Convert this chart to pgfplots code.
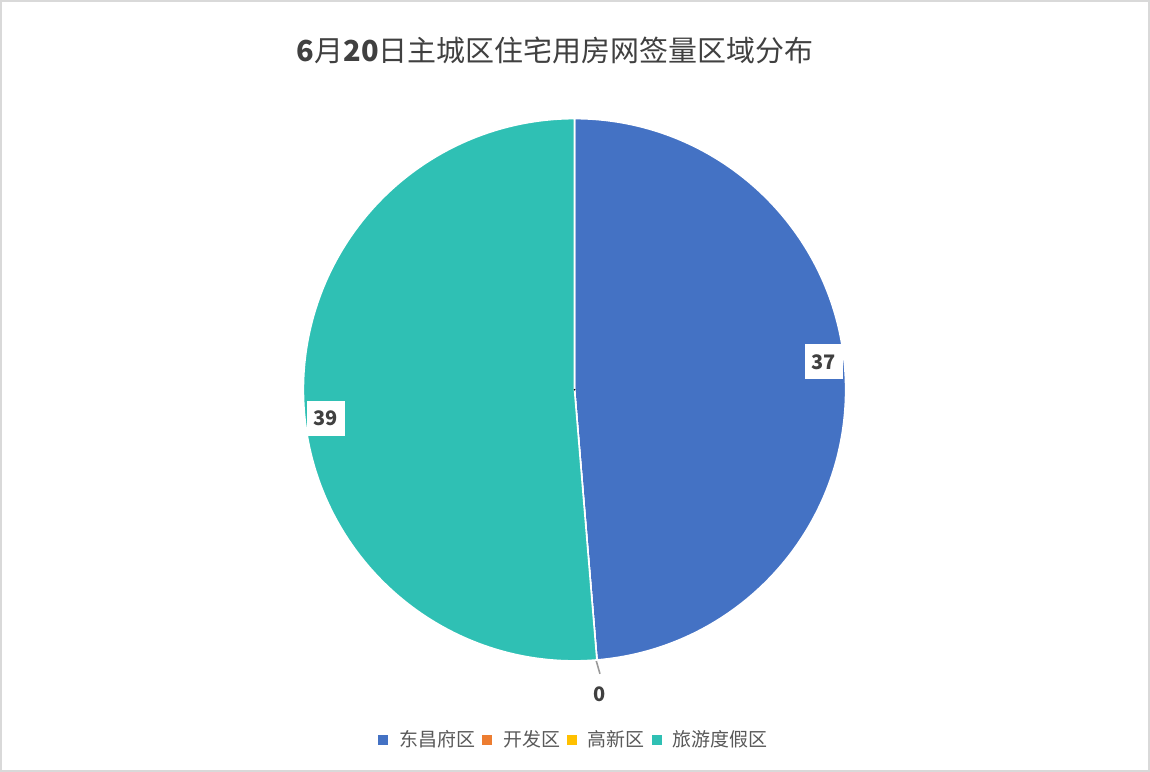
\documentclass[border=0pt]{standalone}
\usepackage{fontspec}
\setmainfont{Noto Sans CJK SC}
\usepackage{pgfplots}
\usepackage{pgfplotstable}
\pgfplotsset{compat=1.18}

\definecolor{dcf}{RGB}{68,114,196}
\definecolor{kfq}{RGB}{237,125,49}
\definecolor{gxq}{RGB}{255,192,0}
\definecolor{lydj}{RGB}{47,192,180}
\definecolor{titlegray}{RGB}{64,64,64}
\definecolor{leggray}{RGB}{89,89,89}

% one row per slice: centre, then value/running total before it
\pgfplotstableread{
x y slice
574.5 381.5 37/0
}\dongchangfu
\pgfplotstableread{
x y slice
574.5 381.5 0/37
}\kaifa
\pgfplotstableread{
x y slice
574.5 381.5 0/37
}\gaoxin
\pgfplotstableread{
x y slice
574.5 381.5 39/37
}\lvyou

\def\splitslice#1/#2\relax{\def\sval{#1}\def\scum{#2}}

\pgfplotsset{
  pieslice/.style={
    scatter, only marks, mark=*, mark size=0.1pt, forget plot,
    point meta=explicit symbolic,
    scatter/@pre marker code/.code={
      \pgfkeys{/pgf/fpu=false}
      \expandafter\splitslice\pgfplotspointmeta\relax
      \pgfmathsetmacro\sa{90-\scum/76*360}
      \pgfmathsetmacro\ea{90-(\scum+\sval)/76*360}
      \fill[#1, draw=white, line width=0.8bp, line join=round]
        (0,0) -- (\sa:135.75bp) arc[start angle=\sa, end angle=\ea, radius=135.75bp] -- cycle;
    },
    scatter/@post marker code/.code={},
  },
  sqlegend/.style={legend image code/.code={\fill[draw=none] (0,-2.5bp) rectangle (5bp,2.5bp);}},
}

\begin{document}
\begin{tikzpicture}
\begin{axis}[
  width=575bp, height=385.5bp, scale only axis,
  xmin=0, xmax=1150, ymin=0, ymax=771,
  axis lines*=box, ticks=none,
  axis line style={draw=black!15, line width=0.8bp},
  title={{\bfseries 6}月{\bfseries 20}日主城区住宅用房网签量区域分布},
  title style={at={(0.4826,0.9196)}, anchor=center,
    font=\fontsize{14.5bp}{16bp}\selectfont, text=titlegray},
  legend columns=-1,
  legend style={at={(0.5,0.0402)}, anchor=center, draw=none, fill=none,
    font=\fontsize{9.5bp}{10bp}\selectfont, text=leggray,
    /tikz/every odd column/.append style={column sep=3.5bp},
    /tikz/every even column/.append style={column sep=1.5bp}},
]
\addplot[pieslice=dcf] table[meta=slice] {\dongchangfu};
\addplot[pieslice=kfq] table[meta=slice] {\kaifa};
\addplot[pieslice=gxq] table[meta=slice] {\gaoxin};
\addplot[pieslice=lydj] table[meta=slice] {\lvyou};

% leader line to the zero label
\addplot[forget plot, black!40, line width=0.8bp] coordinates {(596,111) (600,97)};

\addplot[forget plot, draw=none, mark=none, point meta=explicit symbolic,
  nodes near coords,
  nodes near coords style={anchor=center, fill=white, inner sep=0pt,
    minimum width=19bp, minimum height=17.5bp, text=titlegray,
    font=\fontsize{10bp}{12bp}\selectfont\bfseries}]
  table[meta=label] {
x y label
824 409.5 37
325.5 353 39
600 77 0
};

\addlegendimage{fill=dcf, sqlegend}
\addlegendentry{东昌府区}
\addlegendimage{fill=kfq, sqlegend}
\addlegendentry{开发区}
\addlegendimage{fill=gxq, sqlegend}
\addlegendentry{高新区}
\addlegendimage{fill=lydj, sqlegend}
\addlegendentry{旅游度假区}
\end{axis}
\end{tikzpicture}
\end{document}
